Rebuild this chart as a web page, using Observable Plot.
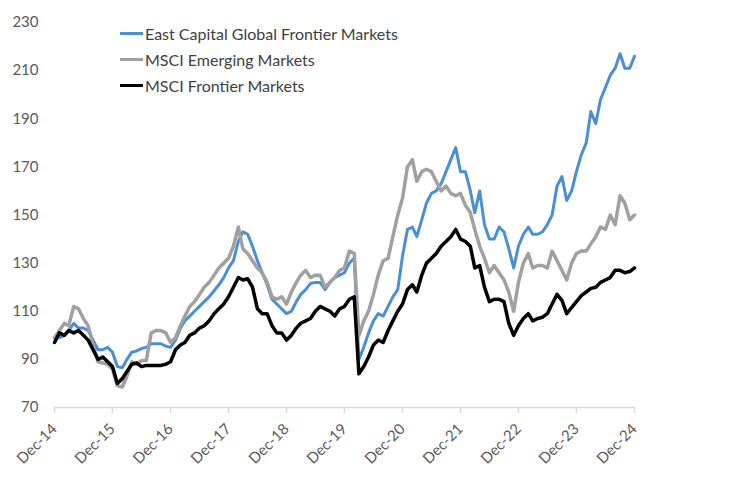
<!DOCTYPE html>
<html>
<head>
<meta charset="utf-8">
<script src="https://cdn.jsdelivr.net/npm/d3@7"></script>
<script src="https://cdn.jsdelivr.net/npm/@observablehq/plot@0.6"></script>
<style>
  body { margin: 0; background: #fff; }
  #wrap { position: relative; width: 730px; height: 480px; font-family: Lato, "Open Sans", sans-serif; }
  #legend { position: absolute; left: 120px; top: 20px; font-size: 16px; color: #404040; }
  .row { display: flex; align-items: center; height: 26px; }
  .sw { width: 23px; height: 3px; margin-right: 2px; }
</style>
</head>
<body>
<div id="wrap"><div id="legend"></div></div>
<script>
const seriesNames = ["East Capital Global Frontier Markets", "MSCI Emerging Markets", "MSCI Frontier Markets"];
const seriesColors = ["#4a8fd6", "#a0a0a0", "#000000"];
const seriesWidths = [3, 3.5, 3.5];

// monthly values, Dec-14 .. Dec-24
const eastCapital = [
  99, 99, 100, 102, 105, 103, 103, 102, 98, 94, 94, 95,
  93, 87, 86.5, 90, 93, 93.5, 94.5, 95, 96.5, 96.5, 96.5, 95.5,
  95, 98, 103, 106, 108, 110, 112, 114, 116, 118.5, 121, 124,
  128, 131, 139, 143, 142, 137, 131, 126, 121, 115, 113, 111,
  109, 110, 114, 117, 119, 121.5, 122, 122, 119, 122, 124, 125,
  126, 130, 132, 90, 95, 101, 106, 109, 108, 112, 116, 119,
  133, 144, 145, 141, 148, 155, 159, 160, 163, 168, 173, 178,
  168, 168, 160, 151, 160, 146, 140, 140, 145, 143, 136, 128,
  137, 142, 145, 142, 142, 143, 146, 150, 162, 166, 156, 160,
  168, 175, 180, 193, 188, 198, 203, 208, 211, 217, 211, 211,
  216
];
const msciEM = [
  99, 102, 105, 104, 112, 111, 107, 104, 96, 89, 88.5, 88,
  86, 79, 78.5, 83, 89, 88, 89.5, 89.5, 101, 102, 102, 101,
  97, 99, 104, 108, 112, 114, 117, 120, 122, 125, 128, 130,
  132, 137, 145, 136, 134, 131, 128, 126, 122, 116, 115, 116,
  113, 118, 122, 125, 127, 124, 125, 125, 120, 122, 124, 127,
  128, 135, 134, 100, 106, 110, 117, 125, 131, 132, 141, 150,
  157, 170, 173, 164, 168, 169, 168, 164, 160, 162, 159, 158,
  159, 154, 151, 144, 137, 132, 126, 129, 126, 123, 118, 110,
  122, 130, 134, 128, 129, 129, 128, 135, 131, 127, 123, 130,
  134, 135, 135, 138, 141, 145, 144, 150, 146, 158, 155, 148,
  150
];
const msciFM = [
  97, 101, 100, 102, 101, 102, 100, 98, 94, 90, 91, 89,
  87, 80, 82, 85, 88, 88.5, 87, 87.5, 87.5, 87.5, 87.5, 88,
  89, 94, 96, 97, 100, 101, 103, 104, 106, 109, 111, 113,
  116, 120, 124, 123, 123.5, 120, 111, 109, 109, 104, 101, 101,
  98, 100, 103, 105, 106, 107, 110, 112, 111, 110, 108, 111,
  112, 115, 116, 84, 87, 91, 96, 98, 97, 102, 106, 110,
  113, 119, 121, 118, 125, 130, 132, 134, 137, 139, 141, 144,
  140, 139, 137, 128, 129, 120, 114, 115, 115, 114, 105, 100,
  104, 107, 109, 106, 107, 107.5, 109, 113, 117, 114.5, 109, 111.5,
  114, 116.5, 118, 119.5, 120, 122, 123, 124, 127, 127, 126, 126.5,
  128
];
const xTickLabels = ["Dec-14","Dec-15","Dec-16","Dec-17","Dec-18","Dec-19","Dec-20","Dec-21","Dec-22","Dec-23","Dec-24"];
const yTicks = [70, 90, 110, 130, 150, 170, 190, 210, 230];

const start = new Date(Date.UTC(2014, 11, 1));
const monthDate = i => d3.utcMonth.offset(start, i);
const xTicks = xTickLabels.map((_, k) => monthDate(12 * k));
const allSeries = [eastCapital, msciEM, msciFM];
const lines = allSeries.map((vals, s) => vals.map((v, i) => ({date: monthDate(i), value: v, name: seriesNames[s]})));

const chart = Plot.plot({
  width: 730,
  height: 480,
  marginLeft: 54,
  marginRight: 96,
  marginTop: 22,
  marginBottom: 73,
  style: {fontFamily: "Lato, 'Open Sans', sans-serif", fontSize: "15px", color: "#595959", background: "#fff"},
  x: {type: "utc", domain: [xTicks[0], xTicks[xTicks.length - 1]]},
  y: {domain: [70, 230]},
  marks: [
    Plot.ruleY([70], {stroke: "#d9d9d9", strokeWidth: 1.5}),
    Plot.axisY({ticks: yTicks, tickSize: 0, tickPadding: 16, label: null, fill: "#595959"}),
    Plot.axisX({ticks: xTicks, tickSize: 6, stroke: "#d9d9d9", strokeWidth: 1.5, tickRotate: -45, tickPadding: 13,
      tickFormat: d => xTickLabels[xTicks.findIndex(t => +t === +d)], label: null, fill: "#595959"}),
    ...lines.map((ld, s) => Plot.line(ld, {x: "date", y: "value", stroke: seriesColors[s], strokeWidth: seriesWidths[s], strokeLinejoin: "round"}))
  ]
});
const wrap = document.getElementById("wrap");
wrap.insertBefore(chart, wrap.firstChild);

const legend = document.getElementById("legend");
seriesNames.forEach((n, s) => {
  const row = document.createElement("div");
  row.className = "row";
  row.innerHTML = `<span class="sw" style="background:${seriesColors[s]}"></span><span>${n}</span>`;
  legend.appendChild(row);
});
</script>
</body>
</html>
